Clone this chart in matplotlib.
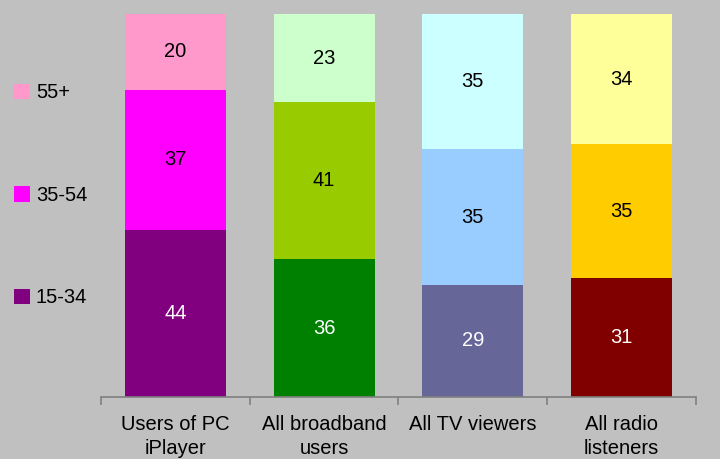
import numpy as np
import matplotlib.pyplot as plt

plt.rcParams['font.family'] = ['Liberation Sans', 'DejaVu Sans']

categories = ['Users of PC\niPlayer', 'All broadband\nusers', 'All TV viewers', 'All radio\nlisteners']
age_groups = ['15-34', '35-54', '55+']
age_15_34 = [44, 36, 29, 31]
age_35_54 = [37, 41, 35, 35]
age_55_plus = [20, 23, 35, 34]

bar_colors = [
    ['#800080', '#008000', '#666699', '#800000'],
    ['#FF00FF', '#99CC00', '#99CCFF', '#FFCC00'],
    ['#FF99CC', '#CCFFCC', '#CCFFFF', '#FFFF99'],
]
text_colors = ['white', 'black', 'black']

values = np.array([age_15_34, age_35_54, age_55_plus], dtype=float)
shares = values / values.sum(axis=0) * 100

bg = '#C0C0C0'
fig = plt.figure(figsize=(7.2, 4.59), dpi=100, facecolor=bg)
ax = fig.add_axes([101 / 720, 62 / 459, 595 / 720, 383 / 459], facecolor=bg)

x = np.arange(len(categories))
bottom = np.zeros(len(categories))
handles = []
for i in range(len(age_groups)):
    bars = ax.bar(x, shares[i], 0.68, bottom=bottom, color=bar_colors[i], label=age_groups[i])
    handles.append(bars[0])
    for j in range(len(categories)):
        ax.text(x[j], bottom[j] + shares[i][j] / 2, '%d' % values[i][j],
                ha='center', va='center', fontsize=14.5, color=text_colors[i])
    bottom += shares[i]

ax.set_xlim(-0.5, 3.5)
ax.set_ylim(0, 100)
for s in ['top', 'right', 'left']:
    ax.spines[s].set_visible(False)
ax.spines['bottom'].set_color('#808080')
ax.spines['bottom'].set_linewidth(1.2)
ax.set_yticks([])
ax.set_xticks(x)
ax.set_xticklabels(categories, fontsize=14.5, linespacing=1.3)
ax.tick_params(axis='x', which='major', length=0, pad=13)
ax.set_xticks(np.arange(-0.5, 4, 1), minor=True)
ax.tick_params(axis='x', which='minor', length=6, color='#808080', width=1.2)

fig.legend(handles[::-1], age_groups[::-1], loc='upper left', bbox_to_anchor=(-0.006, 0.858),
           frameon=False, fontsize=14.5, handlelength=0.8, handleheight=0.8,
           handletextpad=0.3, labelspacing=4.15)

fig.savefig('out.png', dpi=100, facecolor=bg)
